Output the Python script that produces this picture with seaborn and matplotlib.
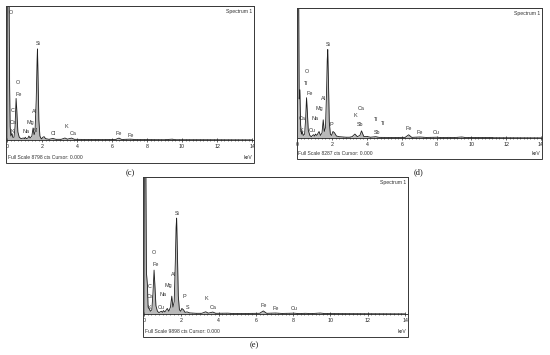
import pandas as pd
import seaborn as sns
import matplotlib.pyplot as plt
from matplotlib.patches import Rectangle
from matplotlib.ticker import MultipleLocator

sns.set_style("white")
plt.rcParams['font.family'] = ['Liberation Sans', 'DejaVu Sans']

# ---------------- data ----------------
# panel (c)
kev_c = [0.00, 0.02, 0.12, 0.15, 0.18, 0.22, 0.28, 0.33, 0.40, 0.46, 0.52, 0.56, 0.62,
         0.70, 0.80, 0.93, 1.00, 1.04, 1.10, 1.20, 1.25, 1.32, 1.42, 1.49, 1.55, 1.60,
         1.67, 1.72, 1.74, 1.77, 1.82, 1.88, 1.96, 2.05, 2.12, 2.20, 2.40, 2.62, 2.80,
         3.10, 3.31, 3.45, 3.69, 3.85, 4.50, 5.50, 6.20, 6.40, 6.55, 7.06, 7.40, 8.04,
         9.00, 9.45, 9.60, 11.0, 14.0]
cts_c = [0, 9300, 9300, 3500, 880, 260, 440, 180, 180, 880, 2730, 1940, 530,
         180, 90, 130, 90, 180, 90, 130, 260, 130, 260, 790, 350, 530,
         2640, 5280, 5980, 4400, 1320, 260, 70, 180, 220, 90, 45, 105, 45,
         45, 130, 55, 125, 45, 35, 25, 35, 125, 35, 55, 25, 25,
         18, 55, 18, 18, 9]
lab_c = ['O', 'Si', 'O', 'Fe', 'C', 'Ca', 'K', 'Al', 'Mg', 'Na', 'Ni', 'Cl', 'K', 'Ca', 'Fe', 'Fe']
lab_c_kev = [0.23, 1.77, 0.63, 0.69, 0.34, 0.34, 0.29, 1.54, 1.31, 1.09, 1.62, 2.63, 3.37, 3.77, 6.40, 7.09]
lab_c_frac = [0.95, 0.72, 0.43, 0.34, 0.22, 0.13, 0.06, 0.21, 0.13, 0.06, 0.07, 0.045, 0.10, 0.05, 0.05, 0.035]

# panel (d)
kev_d = [0.00, 0.02, 0.08, 0.11, 0.15, 0.19, 0.24, 0.28, 0.34, 0.42, 0.48, 0.53, 0.57,
         0.63, 0.72, 0.80, 0.93, 1.00, 1.04, 1.12, 1.25, 1.33, 1.42, 1.49, 1.55, 1.62,
         1.68, 1.72, 1.75, 1.78, 1.84, 1.90, 1.97, 2.05, 2.14, 2.25, 2.40, 2.62, 2.80,
         3.00, 3.15, 3.31, 3.45, 3.60, 3.69, 3.82, 4.01, 4.20, 4.51, 4.70, 5.50, 6.20,
         6.40, 6.58, 7.06, 7.40, 8.04, 8.30, 8.70, 9.00, 9.45, 9.70, 11.1, 11.3, 14.0]
cts_d = [0, 8700, 8700, 2490, 3070, 830, 250, 410, 165, 250, 1240, 2570, 1820,
         500, 165, 85, 210, 125, 250, 165, 415, 165, 330, 1160, 415, 660,
         2900, 4970, 5640, 4140, 1000, 250, 165, 415, 330, 125, 85, 65, 50,
         50, 85, 250, 85, 165, 455, 100, 100, 50, 85, 40, 35, 40,
         205, 40, 65, 35, 50, 25, 40, 25, 65, 25, 35, 17, 8]
lab_d = ['Si', 'O', 'Ti', 'Fe', 'Al', 'Mg', 'Ca', 'Na', 'K', 'Cu', 'P',
         'Ca', 'K', 'Sb', 'Ti', 'Ti', 'Sb', 'Fe', 'Fe', 'Cu']
lab_d_kev = [1.75, 0.54, 0.48, 0.69, 1.50, 1.25, 0.29, 1.00, 0.21, 0.88, 1.98,
             3.66, 3.31, 3.60, 4.53, 4.94, 4.60, 6.38, 7.05, 8.00]
lab_d_frac = [0.72, 0.51, 0.42, 0.34, 0.30, 0.23, 0.15, 0.15, 0.06, 0.06, 0.10,
              0.23, 0.17, 0.10, 0.14, 0.11, 0.04, 0.075, 0.044, 0.044]

# panel (e)
kev_e = [0.00, 0.02, 0.10, 0.13, 0.18, 0.22, 0.28, 0.34, 0.42, 0.48, 0.54, 0.58, 0.64,
         0.72, 0.80, 0.93, 1.00, 1.04, 1.12, 1.25, 1.33, 1.42, 1.49, 1.55, 1.62, 1.68,
         1.72, 1.75, 1.78, 1.84, 1.90, 1.97, 2.03, 2.12, 2.20, 2.31, 2.45, 2.80, 3.10,
         3.31, 3.45, 3.69, 3.85, 4.50, 4.70, 5.50, 6.20, 6.40, 6.58, 7.06, 7.40, 8.04,
         8.30, 8.65, 9.00, 9.45, 9.70, 14.0]
cts_e = [0, 10400, 10400, 2970, 2180, 495, 400, 200, 300, 1480, 3170, 2180, 590,
         200, 100, 200, 120, 250, 150, 400, 200, 500, 1290, 500, 890, 3760,
         6240, 6930, 5150, 1290, 300, 200, 400, 300, 120, 150, 80, 50, 50,
         160, 60, 140, 50, 60, 40, 40, 50, 220, 50, 70, 40, 60,
         30, 50, 30, 70, 30, 10]
lab_e = ['Si', 'O', 'Fe', 'Al', 'Mg', 'C', 'Ca', 'K', 'Na', 'P', 'Cu', 'S',
         'K', 'Ca', 'Fe', 'Fe', 'Cu']
lab_e_kev = [1.76, 0.54, 0.63, 1.57, 1.28, 0.28, 0.32, 0.28, 1.04, 2.15, 0.91, 2.33,
             3.33, 3.73, 6.41, 7.04, 8.06]
lab_e_frac = [0.73, 0.45, 0.36, 0.29, 0.21, 0.20, 0.13, 0.05, 0.14, 0.13, 0.05, 0.05,
              0.11, 0.05, 0.06, 0.04, 0.04]

full_scale = {'c': 8798, 'd': 8287, 'e': 9898}
tick_kev = [0, 2, 4, 6, 8, 10, 12, 14]

# ---------------- layout (pixels in a 550x355 canvas) ----------------
W, H = 550, 355
# box x0, y0, x1, y1, axis line y, px of 0 keV, px of 14 keV, footer y, caption x, y
layout = {
    'c': dict(box=(6, 6, 254, 163), axis=140, k0=7.0, k14=252.0, foot=157.5, cap=(130, 173)),
    'd': dict(box=(297, 8, 542, 159), axis=138, k0=297.3, k14=540.9, foot=153.5, cap=(418, 172)),
    'e': dict(box=(143, 177, 408, 337), axis=314, k0=144.0, k14=405.0, foot=331.5, cap=(254, 345)),
}
spectra = {
    'c': (kev_c, cts_c, lab_c, lab_c_kev, lab_c_frac),
    'd': (kev_d, cts_d, lab_d, lab_d_kev, lab_d_frac),
    'e': (kev_e, cts_e, lab_e, lab_e_kev, lab_e_frac),
}


def fx(x):
    return x / W


def fy(y):
    return 1 - y / H


fig = plt.figure(figsize=(W / 100, H / 100), dpi=100)
fig.patch.set_facecolor('white')
edge = '#3a3a3a'

for key in ['c', 'd', 'e']:
    lay = layout[key]
    x0, y0, x1, y1 = lay['box']
    fs = full_scale[key]
    kev, cts, labs, lkev, lfrac = spectra[key]
    ppk = (lay['k14'] - lay['k0']) / 14.0

    ax = fig.add_axes([fx(x0), fy(lay['axis']), (x1 - x0) / W, (lay['axis'] - y0) / H])
    df = pd.DataFrame({'keV': kev, 'cts': cts})
    ax.fill_between(df['keV'], df['cts'], color='#b9b9b9', lw=0)
    sns.lineplot(data=df, x='keV', y='cts', ax=ax, color='#1e1e1e', lw=0.6)
    ax.set_xlim((x0 - lay['k0']) / ppk, 14 + (x1 - lay['k14']) / ppk)
    ax.set_ylim(0, fs)
    ax.set_xlabel('')
    ax.set_ylabel('')
    ax.set_yticks([])
    ax.set_xticks(tick_kev)
    ax.set_xticklabels([str(t) for t in tick_kev])
    ax.xaxis.set_minor_locator(MultipleLocator(0.2))
    ax.tick_params(axis='x', which='major', direction='inout', length=3, width=0.5,
                   labelsize=3.8, pad=1.2, colors='#222')
    ax.tick_params(axis='x', which='minor', direction='inout', length=1.6, width=0.4, colors='#222')
    ax.tick_params(axis='x', which='both', bottom=True)
    for s in ['top', 'left', 'right']:
        ax.spines[s].set_color(edge)
        ax.spines[s].set_linewidth(0.7)
    ax.spines['right'].set_color('#777')
    ax.spines['bottom'].set_color('#222')
    ax.spines['bottom'].set_linewidth(0.6)

    for t, xk, fr in zip(labs, lkev, lfrac):
        ax.text(xk, fr * fs, t, fontsize=3.9, ha='center', va='center', color='#333')
    ax.text(0.992, 0.975, 'Spectrum 1', transform=ax.transAxes, ha='right', va='top',
            fontsize=3.7, color='#333')

    fig.text(fx(x0 + 1.5), fy(lay['foot']), f'Full Scale {fs} cts Cursor: 0.000',
             fontsize=3.6, va='center', ha='left', color='#333')
    fig.text(fx(x1 - 1.5), fy(lay['foot']), 'keV', fontsize=3.6, va='center', ha='right',
             color='#333')
    fig.patches.append(Rectangle((fx(x0), fy(y1)), (x1 - x0) / W, (y1 - y0) / H,
                                 transform=fig.transFigure, fill=False, lw=0.7, ec=edge))
    cx, cy = lay['cap']
    fig.text(fx(cx), fy(cy), f'({key})', family=['Liberation Serif', 'DejaVu Serif'],
             fontsize=6, ha='center', va='center', color='#111')

fig.savefig('out.png', dpi=100)
